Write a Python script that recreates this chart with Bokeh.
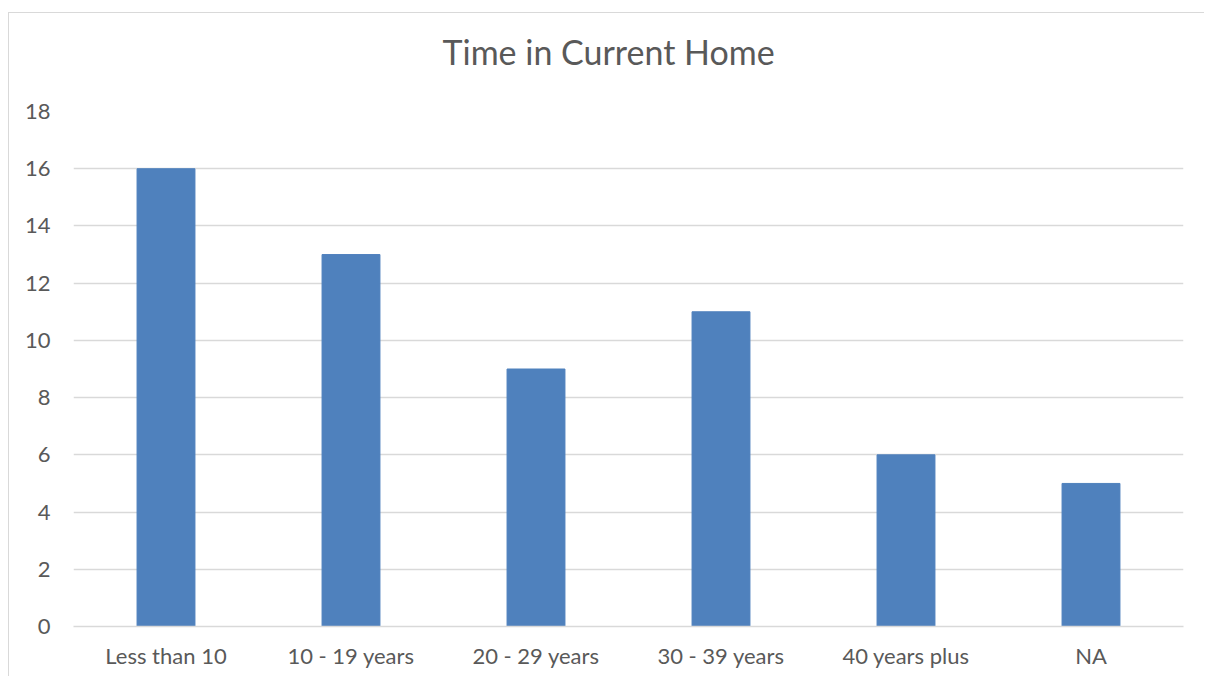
from bokeh.plotting import figure
from bokeh.models import FactorRange, Range1d, FixedTicker, Title
from bokeh.embed import file_html
from bokeh.resources import INLINE

categories = ["Less than 10", "10 - 19 years", "20 - 29 years", "30 - 39 years", "40 years plus", "NA"]
counts = [16, 13, 9, 11, 6, 5]
y_ticks = [0, 2, 4, 6, 8, 10, 12, 14, 16, 18]
title_text = "Time in Current Home"

FONT = "Lato"
GREY = "#595959"

p = figure(
    width=1196, height=664,
    x_range=FactorRange(*categories, range_padding=0),
    y_range=Range1d(0, 18),
    output_backend="svg", toolbar_location=None,
    min_border_left=64, min_border_right=22, min_border_top=98, min_border_bottom=51,
)
p.styles = {"border-left": "1px solid #d9d9d9", "border-top": "1px solid #d9d9d9",
            "border-right": "none", "box-shadow": "none", "outline": "none",
            "margin-top": "12px", "margin-left": "8px"}

p.vbar(x=categories, top=counts, width=0.313, color="#4F81BD")

# spacer panel between the frame and the title
spacer = Title(text=" ", text_font_size="2px", standoff=36)
p.add_layout(spacer, "above")

main_title = Title(text=title_text, align="left", offset=369, standoff=0,
                   text_font=FONT, text_font_size="34px", text_font_style="normal",
                   text_color=GREY)
p.add_layout(main_title, "above")

p.outline_line_color = None
p.xgrid.grid_line_color = None
p.ygrid.grid_line_color = "#d9d9d9"
p.ygrid.grid_line_width = 1.5
p.yaxis.ticker = FixedTicker(ticks=y_ticks)

for ax in (p.xaxis, p.yaxis):
    ax.major_tick_line_color = None
    ax.minor_tick_line_color = None
    ax.major_label_text_font = FONT
    ax.major_label_text_font_size = "22px"
    ax.major_label_text_color = GREY
p.yaxis.axis_line_color = None
p.xaxis.axis_line_color = "#d9d9d9"
p.xaxis.axis_line_width = 1.5
p.yaxis.major_label_standoff = 17
p.xaxis.major_label_standoff = 9

open("out.html", "w").write(file_html(p, INLINE))
